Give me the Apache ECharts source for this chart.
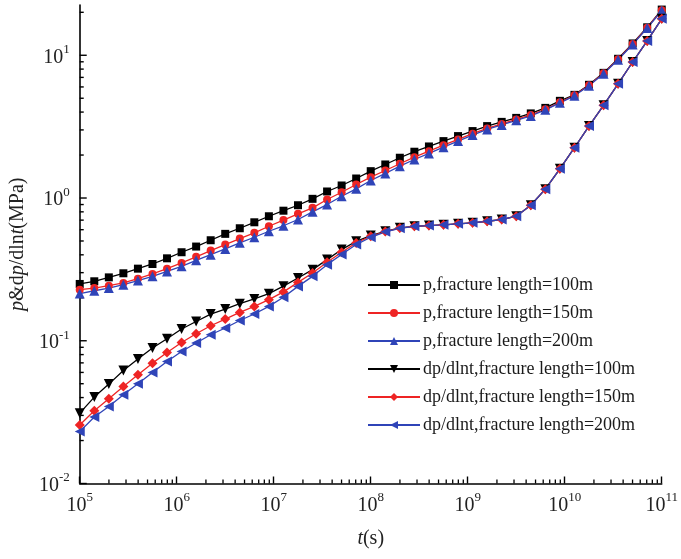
<!DOCTYPE html>
<html>
<head>
<meta charset="utf-8">
<script src="https://cdn.jsdelivr.net/npm/echarts@6/dist/echarts.min.js"></script>
<style>
  html, body { margin: 0; padding: 0; background: #fff; }
  #chart { width: 681px; height: 559px; }
</style>
</head>
<body>
<div id="chart"></div>
<script>
// Sampling times t (s), evenly spaced on a log scale
const times = [
  1e5, 1.413e5, 1.995e5, 2.818e5, 3.981e5, 5.623e5, 7.943e5,
  1.122e6, 1.585e6, 2.239e6, 3.162e6, 4.467e6, 6.310e6, 8.913e6,
  1.259e7, 1.778e7, 2.512e7, 3.548e7, 5.012e7, 7.079e7,
  1e8, 1.413e8, 1.995e8, 2.818e8, 3.981e8, 5.623e8, 7.943e8,
  1.122e9, 1.585e9, 2.239e9, 3.162e9, 4.467e9, 6.310e9, 8.913e9,
  1.259e10, 1.778e10, 2.512e10, 3.548e10, 5.012e10, 7.079e10,
  1e11
];

// Pressure p (MPa)
const p100 = [0.250,0.261,0.278,0.297,0.320,0.345,0.378,0.417,0.457,0.506,0.561,0.614,0.676,0.745,0.815,0.890,0.987,1.111,1.224,1.370,1.542,1.718,1.915,2.110,2.297,2.504,2.715,2.944,3.190,3.415,3.642,3.915,4.280,4.795,5.28,6.21,7.53,9.45,12.1,15.7,20.9];
const p150 = [0.228,0.234,0.243,0.254,0.272,0.294,0.320,0.351,0.387,0.428,0.472,0.520,0.570,0.634,0.701,0.775,0.853,0.976,1.098,1.244,1.400,1.559,1.738,1.933,2.129,2.347,2.574,2.823,3.074,3.306,3.555,3.822,4.18,4.68,5.24,6.16,7.48,9.38,12.0,15.6,20.7];
const p200 = [0.214,0.224,0.234,0.247,0.264,0.283,0.306,0.332,0.366,0.401,0.440,0.485,0.531,0.585,0.639,0.707,0.800,0.900,1.029,1.160,1.327,1.486,1.671,1.862,2.052,2.272,2.504,2.761,3.025,3.252,3.499,3.761,4.146,4.64,5.20,6.11,7.42,9.30,11.9,15.5,20.5];

// Pressure derivative dp/dlnt (MPa)
const dp100 = [0.0311,0.0403,0.0497,0.0619,0.0744,0.0889,0.1033,0.1208,0.1365,0.1538,0.1668,0.1818,0.1963,0.2137,0.2412,0.2754,0.3149,0.3702,0.4352,0.4977,0.5455,0.5848,0.6180,0.6339,0.6412,0.6486,0.6592,0.6699,0.6873,0.7063,0.746,0.889,1.153,1.603,2.25,3.19,4.46,6.31,8.97,12.6,18.0];
const dp150 = [0.0257,0.0323,0.0392,0.0478,0.0577,0.0697,0.0828,0.0973,0.1120,0.1274,0.1419,0.1580,0.1741,0.1941,0.2200,0.2564,0.2985,0.3544,0.4167,0.4849,0.5395,0.5820,0.6160,0.6339,0.6412,0.6486,0.6592,0.6699,0.6873,0.7063,0.746,0.889,1.153,1.603,2.25,3.19,4.46,6.31,8.97,12.6,18.0];
const dp200 = [0.0231,0.0292,0.0346,0.0418,0.0499,0.0599,0.0716,0.0841,0.0964,0.1102,0.1228,0.1387,0.1539,0.1741,0.2019,0.2404,0.2826,0.3413,0.4017,0.4718,0.5309,0.5794,0.6139,0.6339,0.6412,0.6486,0.6592,0.6699,0.6873,0.7063,0.746,0.889,1.153,1.603,2.25,3.19,4.46,6.31,8.97,12.6,18.0];

const seriesNames = [
  'p,fracture length=100m',
  'p,fracture length=150m',
  'p,fracture length=200m',
  'dp/dlnt,fracture length=100m',
  'dp/dlnt,fracture length=150m',
  'dp/dlnt,fracture length=200m'
];

// Axis ranges and tick values
const xMin = 1e5, xMax = 1e11;
const yMin = 1e-2, yMax = 22.5;
const yMajorTicks = [1e-2, 1e-1, 1, 10];
const mantissas = [2, 3, 4, 5, 6, 7, 8, 9];
const xDecades = [1e5, 1e6, 1e7, 1e8, 1e9, 1e10];
const yDecades = [1e-2, 1e-1, 1, 10];

const xMinorTicks = [];
xDecades.forEach(d => mantissas.forEach(m => xMinorTicks.push(d * m)));
const yMinorTicks = [];
yDecades.forEach(d => mantissas.forEach(m => { if (d * m <= yMax) yMinorTicks.push(d * m); }));

const BLACK = '#000000', RED = '#ee2424', BLUE = '#2f44b8';
const SERIF = '"Liberation Serif", "Times New Roman", serif';

function pairs(values) {
  return times.map((t, i) => [t, values[i]]);
}

function makeLine(name, values, color, symbol, size, rotate) {
  return {
    name: name,
    type: 'line',
    data: pairs(values),
    symbol: symbol,
    symbolSize: size,
    symbolRotate: rotate || 0,
    showAllSymbol: true,
    clip: false,
    lineStyle: { color: color, width: 1.3 },
    itemStyle: { color: color, borderWidth: 0 },
    emphasis: { disabled: true }
  };
}

function powerLabel(value) {
  const e = Math.log10(value);
  const r = Math.round(e);
  if (Math.abs(e - r) > 1e-6) return '';
  return '{b|10}{s|' + r + '}';
}

const labelRich = {
  b: { fontFamily: SERIF, fontSize: 20, color: '#222', lineHeight: 24, verticalAlign: 'bottom' },
  s: { fontFamily: SERIF, fontSize: 13, color: '#222', verticalAlign: 'top' }
};

const chart = echarts.init(document.getElementById('chart'), null, { renderer: 'canvas' });

chart.setOption({
  animation: false,
  backgroundColor: '#ffffff',
  textStyle: { fontFamily: SERIF },
  grid: { left: 74, right: 17, top: 5, bottom: 75.5 },
  legend: {
    data: seriesNames,
    orient: 'vertical',
    left: 362,
    top: 271,
    itemWidth: 52,
    itemHeight: 10,
    itemGap: 10,
    selectedMode: false,
    textStyle: { fontFamily: SERIF, fontSize: 18, color: '#1a1a1a', padding: [0, 0, 0, -2] }
  },
  xAxis: {
    type: 'log',
    logBase: 10,
    min: xMin,
    max: xMax,
    name: '{i|t}(s)',
    nameLocation: 'middle',
    nameGap: 45,
    nameTextStyle: {
      fontFamily: SERIF, fontSize: 20, color: '#222',
      rich: { i: { fontFamily: SERIF, fontSize: 20, fontStyle: 'italic', color: '#222' } }
    },
    axisLine: { show: true, lineStyle: { color: '#000', width: 1.6 } },
    axisTick: { show: true, inside: true, length: 7, lineStyle: { color: '#000', width: 1.4 } },
    axisLabel: { margin: 8, formatter: powerLabel, rich: labelRich },
    splitLine: { show: false },
    minorTick: { show: false }
  },
  yAxis: {
    type: 'log',
    logBase: 10,
    min: yMin,
    max: yMax,
    name: '{i|p}{n|&d}{i|p}{n|/dln}{i|t}{n|(MPa)}',
    nameLocation: 'middle',
    nameGap: 46,
    nameTextStyle: {
      fontFamily: SERIF, fontSize: 20, color: '#222',
      rich: {
        i: { fontFamily: SERIF, fontSize: 20, fontStyle: 'italic', color: '#222' },
        n: { fontFamily: SERIF, fontSize: 20, color: '#222' }
      }
    },
    axisLine: { show: true, lineStyle: { color: '#000', width: 1.6 } },
    axisTick: { show: false },
    axisLabel: { margin: 10, formatter: powerLabel, rich: labelRich },
    splitLine: { show: false },
    minorTick: { show: false }
  },
  series: [
    makeLine(seriesNames[0], p100, BLACK, 'rect', 8),
    makeLine(seriesNames[1], p150, RED, 'circle', 8),
    makeLine(seriesNames[2], p200, BLUE, 'triangle', 10),
    makeLine(seriesNames[3], dp100, BLACK, 'triangle', 10, 180),
    makeLine(seriesNames[4], dp150, RED, 'diamond', 10),
    makeLine(seriesNames[5], dp200, BLUE, 'triangle', 10, 90),
    {
      // minor ticks along the time axis, pointing into the plot
      type: 'custom',
      silent: true,
      clip: false,
      data: xMinorTicks.map(v => [v, yMin]),
      renderItem: function (params, api) {
        const pt = api.coord([api.value(0), api.value(1)]);
        return {
          type: 'line',
          shape: { x1: pt[0], y1: pt[1], x2: pt[0], y2: pt[1] - 4 },
          style: { stroke: '#000', lineWidth: 1.3 }
        };
      }
    },
    {
      // major and minor ticks along the pressure axis, pointing into the plot
      type: 'custom',
      silent: true,
      clip: false,
      data: yMajorTicks.map(v => [xMin, v, 7]).concat(yMinorTicks.map(v => [xMin, v, 4])),
      renderItem: function (params, api) {
        const pt = api.coord([api.value(0), api.value(1)]);
        return {
          type: 'line',
          shape: { x1: pt[0], y1: pt[1], x2: pt[0] + api.value(2), y2: pt[1] },
          style: { stroke: '#000', lineWidth: 1.4 }
        };
      }
    }
  ]
});
</script>
</body>
</html>
